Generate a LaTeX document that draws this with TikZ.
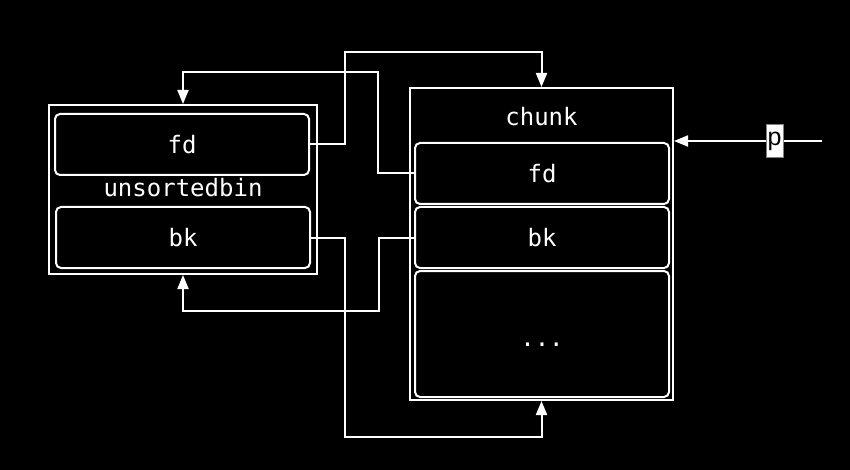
\documentclass[tikz,border=0pt]{standalone}
\usepackage{fontspec}
\setmonofont{DejaVu Sans Mono}
\newfontfamily\plabelfont{Liberation Sans}
\usetikzlibrary{arrows.meta}
\begin{document}
\begin{tikzpicture}[x=1pt,y=-1pt,
  outerbox/.style={draw=white,line width=2pt,rectangle,inner sep=0pt},
  field/.style={draw=white,line width=2pt,rectangle,rounded corners=5pt,inner sep=0pt,
    text=white,font=\ttfamily\fontsize{24}{28}\selectfont},
  lbl/.style={text=white,font=\ttfamily\fontsize{24}{28}\selectfont,inner sep=0pt},
  conn/.style={draw=white,line width=2pt,-{Triangle[length=14pt,width=11pt]}},
  ptag/.style={fill=white,draw=gray,line width=1pt,text=black,inner xsep=1.5pt,inner ysep=0pt,
    minimum height=33pt,font=\plabelfont\fontsize{25}{27}\selectfont}]
\fill[black] (0,0) rectangle (850,470);
\useasboundingbox (0,0) rectangle (850,470);
% unsortedbin
\node[outerbox,minimum width=268pt,minimum height=169pt] (ub) at (183,189.5) {};
\node[field,minimum width=254pt,minimum height=61pt] (ubfd) at (182,144.5) {fd};
\node[lbl] (ublbl) at (183,188) {unsortedbin};
\node[field,minimum width=254pt,minimum height=61pt] (ubbk) at (183,237.5) {bk};
% chunk
\node[outerbox,minimum width=263pt,minimum height=312pt] (chunk) at (541.5,244) {};
\node[lbl] (chlbl) at (541.5,117) {chunk};
\node[field,minimum width=254pt,minimum height=61pt] (cfd) at (542,173.5) {fd};
\node[field,minimum width=254pt,minimum height=61pt] (cbk) at (542,237.5) {bk};
\node[field,minimum width=254pt,minimum height=126pt,text height=24pt] (cdots) at (542,334) {...};
% connector corners
\coordinate (k1) at (345,52);
\coordinate (k2) at (378,72);
\coordinate (k3) at (345,437);
\coordinate (k4) at (379,311);
\coordinate (pstart) at (822,141);
% connectors
\draw[conn] (ubfd.east) -| (k1) -| (chunk.north);
\draw[conn] (cfd.west) -| (k2) -| (ub.north);
\draw[conn] (ubbk.east) -| (k3) -| (chunk.south);
\draw[conn] (cbk.west) -| (k4) -| (ub.south);
\draw[conn] (pstart) -- node[ptag,pos=0.32] (plbl) {p} (chunk.east |- pstart);
\end{tikzpicture}
\end{document}
